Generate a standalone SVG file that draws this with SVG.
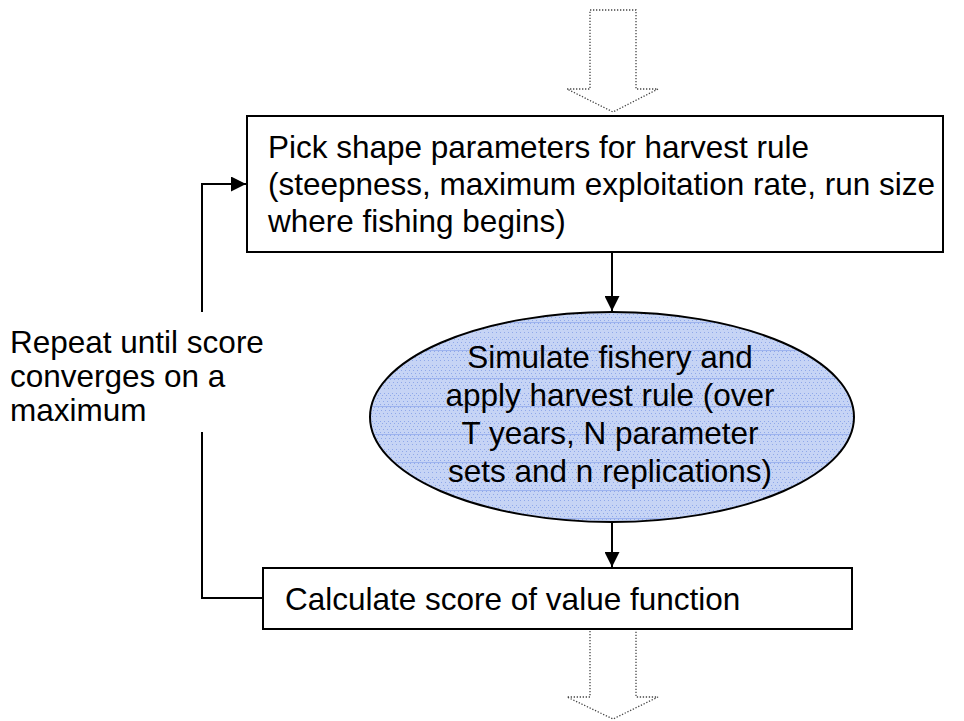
<svg xmlns="http://www.w3.org/2000/svg" width="964" height="721" viewBox="0 0 964 721">
<style>
  .t { font-family: "Liberation Sans", Arial, sans-serif; font-size: 31.5px; fill: #000; }
  .box { fill: #fff; stroke: #000; stroke-width: 2; }
  .dot { fill: #fff; stroke: #444; stroke-width: 1.3; stroke-dasharray: 1.3 1.7; }
  .ln { fill: none; stroke: #000; stroke-width: 2; }
</style>
<defs>
  <marker id="ah" viewBox="0 0 10 10" refX="10" refY="5" markerWidth="7.5" markerHeight="7.5" markerUnits="strokeWidth" orient="auto">
    <path d="M0,0 L10,5 L0,10 Z" fill="#000"/>
  </marker>
  <pattern id="tex" width="4" height="28" patternUnits="userSpaceOnUse">
    <rect width="4" height="28" fill="#c6d4f5"/>
    <rect x="0" y="1" width="1" height="1" fill="#8fa8ea"/>
    <rect x="2" y="3" width="1" height="1" fill="#8fa8ea"/>
    <rect x="1" y="6" width="1" height="1" fill="#8fa8ea"/>
    <rect x="3" y="9" width="1" height="1" fill="#8fa8ea"/>
    <rect x="0" y="12" width="1" height="1" fill="#8fa8ea"/>
    <rect x="2" y="15" width="1" height="1" fill="#8fa8ea"/>
    <rect x="1" y="18" width="1" height="1" fill="#8fa8ea"/>
    <rect x="3" y="21" width="1" height="1" fill="#8fa8ea"/>
    <rect x="0" y="24" width="1" height="1" fill="#8fa8ea"/>
    <rect x="0" y="14" width="4" height="1" fill="#9db3ee"/>
  </pattern>
</defs>

<g id="arrow-in">
  <path class="dot" d="M590,10 L636,10 L636,89 L658,89 L613,112 L567,89 L590,89 Z"/>
</g>

<g id="pick">
  <rect class="box" x="247" y="116" width="696" height="136"/>
  <text class="t" x="268" y="158">Pick shape parameters for harvest rule</text>
  <text class="t" x="268" y="195">(steepness, maximum exploitation rate, run size</text>
  <text class="t" x="268" y="232">where fishing begins)</text>
</g>

<g id="simulate">
  <ellipse cx="612" cy="417" rx="242" ry="105" fill="url(#tex)" stroke="#000" stroke-width="2"/>
  <text class="t" x="610" y="368" text-anchor="middle">Simulate fishery and</text>
  <text class="t" x="610" y="406" text-anchor="middle">apply harvest rule (over</text>
  <text class="t" x="610" y="444" text-anchor="middle">T years, N parameter</text>
  <text class="t" x="610" y="482" text-anchor="middle">sets and n replications)</text>
</g>

<g id="calculate">
  <rect class="box" x="263" y="568" width="589" height="61"/>
  <text class="t" x="285" y="610">Calculate score of value function</text>
</g>

<g id="repeat-label">
  <text class="t" x="10" y="353">Repeat until score</text>
  <text class="t" x="10" y="387">converges on a</text>
  <text class="t" x="10" y="421">maximum</text>
</g>

<g id="arrow-out">
  <path class="dot" d="M590,631 L590,697 L567,697 L613,719 L658,697 L636,697 L636,631"/>
</g>

<g id="connectors">
  <line class="ln" x1="612" y1="252" x2="612" y2="311" marker-end="url(#ah)"/>
  <line class="ln" x1="612" y1="522" x2="612" y2="567" marker-end="url(#ah)"/>
  <polyline class="ln" points="263,598 202,598 202,432"/>
  <polyline class="ln" points="202,312 202,184 246,184" marker-end="url(#ah)"/>
</g>
</svg>
